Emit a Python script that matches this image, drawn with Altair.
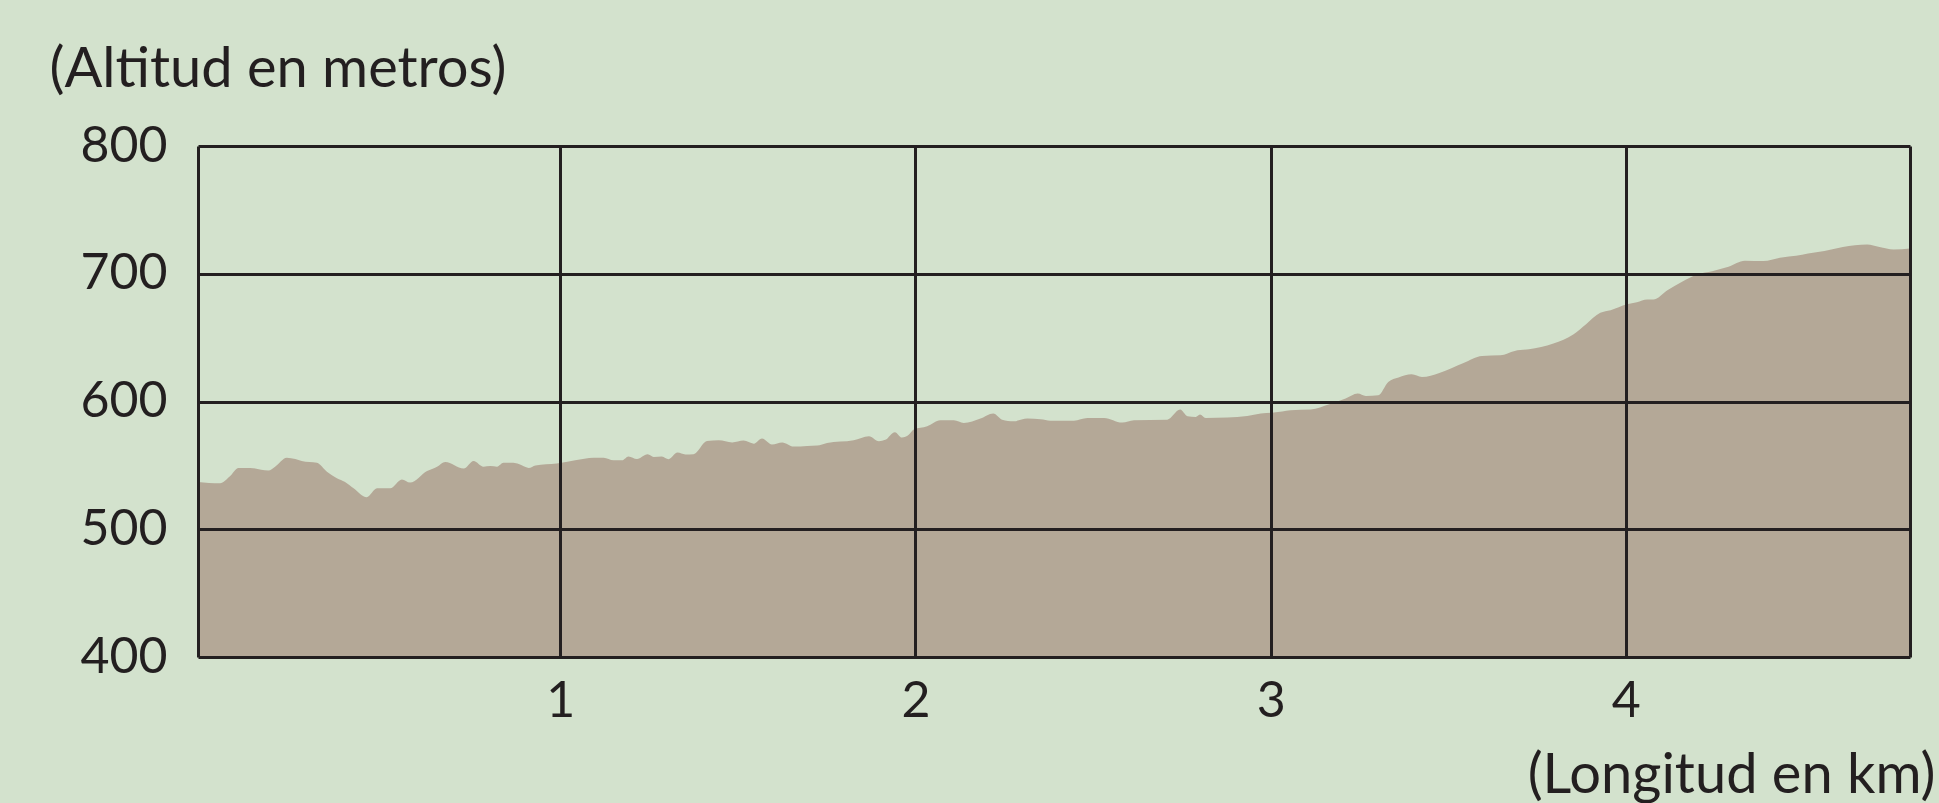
import altair as alt
import pandas as pd
import jinja2

km = [-0.02, 0.042, 0.07, 0.094, 0.127, 0.178, 0.197, 0.23, 0.254, 0.272, 0.315, 0.343, 0.371, 0.394,
      0.418, 0.455, 0.484, 0.521, 0.554, 0.577, 0.625, 0.653, 0.676, 0.728, 0.756, 0.784, 0.803, 0.822,
      0.84, 0.868, 0.883, 0.911, 0.93, 0.99, 1.042, 1.094, 1.122, 1.15, 1.174, 1.192, 1.216, 1.246,
      1.263, 1.286, 1.305, 1.33, 1.352, 1.375, 1.413, 1.446, 1.484, 1.516, 1.545, 1.568, 1.596, 1.625,
      1.657, 1.695, 1.723, 1.751, 1.826, 1.869, 1.897, 1.915, 1.942, 1.962, 1.981, 1.995, 2.033, 2.07,
      2.108, 2.136, 2.183, 2.219, 2.244, 2.277, 2.315, 2.352, 2.38, 2.446, 2.484, 2.531, 2.582, 2.615,
      2.709, 2.745, 2.766, 2.789, 2.801, 2.817, 2.878, 2.934, 2.972, 3.009, 3.056, 3.113, 3.165, 3.211,
      3.245, 3.268, 3.303, 3.331, 3.36, 3.397, 3.426, 3.475, 3.543, 3.595, 3.647, 3.687, 3.727, 3.796,
      3.853, 3.888, 3.928, 3.957, 4.003, 4.031, 4.06, 4.077, 4.117, 4.157, 4.203, 4.243, 4.289, 4.335,
      4.387, 4.439, 4.479, 4.513, 4.559, 4.611, 4.679, 4.714, 4.754, 4.80]
altitud = [537, 536, 541.5, 548, 548, 546, 549, 556, 555, 553.5, 552, 545, 540, 537,
           532, 525, 532, 532, 539, 536.5, 545.5, 549, 552.7, 547.5, 553.5, 549, 549.5, 549,
           552, 552, 551, 548, 550, 551.5, 554, 556, 556, 554, 554, 557, 555, 558.7,
           556.6, 557, 554.8, 560, 558.5, 558.7, 569, 569.6, 568, 569.4, 567, 571, 566.3, 567.9,
           564.7, 565.2, 565.5, 567.6, 569.6, 572.8, 568.9, 570, 576, 571.8, 574, 578, 580.6, 585.3,
           585.3, 583.2, 586.6, 590.6, 585.8, 584.5, 586.6, 586.1, 585, 585, 587.1, 587.1, 583.5, 585.3,
           585.8, 593.7, 588.5, 587.9, 589.8, 587.1, 587.4, 588.7, 590.6, 591.3, 593.2, 593.7, 597.8, 602.3,
           606.2, 604.4, 604.9, 615.3, 618.8, 621.3, 619.2, 622.4, 630.2, 635.7, 636.2, 639.6, 640.9, 645.4,
           652.6, 660.5, 669.4, 671.5, 676.2, 677.7, 679.8, 679.8, 687.1, 693.6, 699.7, 702, 705.4, 710.1,
           709.9, 712.8, 714, 715.9, 717.9, 721, 722.9, 721, 719, 719.8]

x_ticks = [1, 2, 3, 4]
y_ticks = [400, 500, 600, 700, 800]
X_MIN, X_MAX = -0.02, 4.80

df = pd.DataFrame({"km": km, "alt": altitud})

FONT = "Lato"
INK = "#231f20"
BG = "#d3e2cd"

chart = alt.Chart(df).mark_area(color="#b4a897", clip=True, interpolate="monotone").encode(
    x=alt.X("km:Q",
            scale=alt.Scale(domain=[X_MIN, X_MAX], nice=False, zero=False),
            axis=alt.Axis(values=[X_MIN] + x_ticks + [X_MAX],
                          labelExpr="(datum.value >= 1 && datum.value <= 4) ? datum.label : ''",
                          grid=True, gridColor=INK, gridWidth=3, gridOpacity=1,
                          domain=False, ticks=False, labelPadding=19,
                          labelFont=FONT, labelFontSize=50, labelColor=INK,
                          title="(Longitud en km)", titleFont=FONT, titleFontSize=56,
                          titleFontWeight="normal", titleColor=INK,
                          titleAlign="right", titleAnchor="end", titleBaseline="alphabetic",
                          titleX=1737, titleY=135, zindex=1)),
    y=alt.Y("alt:Q",
            scale=alt.Scale(domain=[400, 800], nice=False, zero=False),
            axis=alt.Axis(values=y_ticks, grid=True, gridColor=INK, gridWidth=3, gridOpacity=1,
                          domain=False, ticks=False, labelPadding=31,
                          labelFont=FONT, labelFontSize=50, labelColor=INK,
                          title="(Altitud en metros)", titleFont=FONT, titleFontSize=56,
                          titleFontWeight="normal", titleColor=INK, titleAngle=0,
                          titleAlign="left", titleBaseline="alphabetic",
                          titleX=-149, titleY=-60, zindex=1)),
    y2=alt.datum(400),
).properties(
    width=1712, height=511,
    autosize=alt.AutoSizeParams(type="none"),
    padding={"left": 198, "top": 146, "right": 29, "bottom": 146},
    background=BG,
).configure_view(stroke=None)

PAGE = jinja2.Template("""<!DOCTYPE html>
<html>
<head>
  <style>
    html, body { margin: 0; padding: 0; background: """ + BG + """; overflow: hidden; }
    #{{ output_div }}.vega-embed { width: 100%; display: flex; }
  </style>
  <script type="text/javascript" src="{{ base_url }}/vega@{{ vega_version }}"></script>
  <script type="text/javascript" src="{{ base_url }}/vega-lite@{{ vegalite_version }}"></script>
  <script type="text/javascript" src="{{ base_url }}/vega-embed@{{ vegaembed_version }}"></script>
</head>
<body>
  <div id="{{ output_div }}"></div>
  <script>
    (function(vegaEmbed) {
      var spec = {{ spec }};
      var embedOpt = {{ embed_options }};
      function showError(el, error){
        el.innerHTML = ('<div style="color:red;"><p>JavaScript Error: ' + error.message + '</p></div>');
        throw error;
      }
      const el = document.getElementById('{{ output_div }}');
      vegaEmbed("#{{ output_div }}", spec, embedOpt).catch(error => showError(el, error));
    })(vegaEmbed);
  </script>
</body>
</html>
""")

chart.save("out.html", embed_options={"renderer": "svg", "actions": False}, template=PAGE)
